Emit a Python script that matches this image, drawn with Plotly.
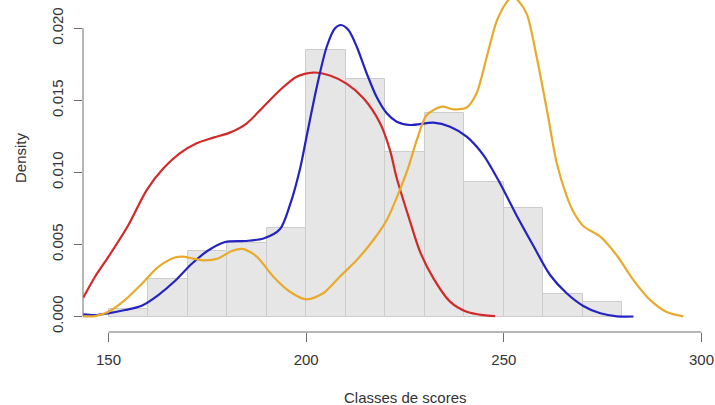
import plotly.graph_objects as go

# ---------------- data ----------------
bin_edges = [150, 160, 170, 180, 190, 200, 210, 220, 230, 240, 250, 260, 270, 280]
bin_density = [0.00055, 0.0026, 0.00455, 0.0051, 0.00612, 0.01849, 0.01648,
               0.0114, 0.0141, 0.00931, 0.00751, 0.00156, 0.00098]

red_x = [143.6, 146.6, 150.0, 154.9, 159.7, 163.9, 168.1, 172.3, 176.5, 180.7,
         185.0, 189.2, 193.4, 197.6, 201.8, 206.0, 210.3, 214.5, 218.7, 221.2,
         222.9, 226.3, 228.8, 232.2, 236.4, 240.6, 244.8, 247.8]
red_y = [0.00130, 0.00276, 0.00415, 0.00628, 0.00879, 0.01028, 0.01133, 0.01202,
         0.01241, 0.01276, 0.01341, 0.01456, 0.01572, 0.01664, 0.01693, 0.01672,
         0.01614, 0.01514, 0.01341, 0.01155, 0.00961, 0.00658, 0.00450, 0.00265,
         0.00103, 0.00033, 0.00009, 0.00002]

blue_x = [143.6, 146.6, 149.9, 154.2, 158.4, 162.6, 166.8, 171.0, 175.2, 179.5,
          184.5, 189.2, 193.4, 195.9, 198.5, 200.1, 202.7, 205.2, 207.3, 208.8,
          210.7, 212.8, 215.3, 217.8, 220.4, 222.9, 226.3, 232.2, 236.4, 240.6,
          244.8, 249.0, 253.3, 257.5, 261.7, 265.9, 270.1, 274.4, 278.6, 282.8]
blue_y = [0.00015, 0.00010, 0.00022, 0.00045, 0.00075, 0.00149, 0.00246, 0.00364,
          0.00458, 0.00517, 0.00524, 0.00541, 0.00607, 0.00774, 0.01031, 0.01248,
          0.01595, 0.01872, 0.02000, 0.02023, 0.01988, 0.01872, 0.01688, 0.01525,
          0.01410, 0.01352, 0.01329, 0.01345, 0.01317, 0.01248, 0.01121, 0.00926,
          0.00697, 0.00489, 0.00288, 0.00161, 0.00073, 0.00022, 0.00001, 0.0]

orange_x = [143.6, 146.6, 150.0, 154.2, 158.4, 162.6, 166.8, 168.8, 171.4, 174.4,
            177.7, 181.2, 184.1, 187.5, 191.7, 195.9, 200.1, 204.3, 208.5, 212.8,
            217.0, 220.4, 223.7, 225.8, 228.0, 230.5, 234.3, 237.2, 240.6, 243.1,
            245.7, 248.2, 250.7, 252.2, 253.7, 255.8, 258.3, 260.9, 263.4, 265.9,
            267.6, 270.1, 274.4, 278.6, 282.8, 287.0, 291.2, 295.4]
orange_y = [0.00001, 0.00003, 0.00033, 0.00115, 0.00226, 0.00344, 0.00409, 0.00416,
            0.00402, 0.00389, 0.00402, 0.00455, 0.00468, 0.00415, 0.00276, 0.00172,
            0.00119, 0.00161, 0.00276, 0.00392, 0.00531, 0.00670, 0.00878, 0.01031,
            0.01225, 0.01398, 0.01456, 0.01438, 0.01450, 0.01549, 0.01803, 0.02050,
            0.02180, 0.02220, 0.02190, 0.02100, 0.01803, 0.01433, 0.01063, 0.00836,
            0.00727, 0.00628, 0.00554, 0.00423, 0.00253, 0.00115, 0.00031, 0.00001]

x_ticks = [150, 200, 250, 300]
y_ticks = [0.000, 0.005, 0.010, 0.015, 0.020]
y_tick_labels = ["0.000", "0.005", "0.010", "0.015", "0.020"]

x_title = "Classes de scores"
y_title = "Density"

# ---------------- figure ----------------
W, H = 715, 405
ML, MR, MT, MB = 83, 0, 0, 73

bin_centers = [(a + b) / 2 for a, b in zip(bin_edges[:-1], bin_edges[1:])]
bin_widths = [b - a for a, b in zip(bin_edges[:-1], bin_edges[1:])]

fig = go.Figure()
fig.add_trace(go.Bar(
    x=bin_centers, y=bin_density, width=bin_widths,
    marker=dict(color="#E6E6E6", line=dict(color="#CCCCCC", width=1)),
    showlegend=False, hoverinfo="skip"))

for xs, ys, col in [(red_x, red_y, "#D02A2A"),
                    (blue_x, blue_y, "#2323C2"),
                    (orange_x, orange_y, "#E8AA2C")]:
    fig.add_trace(go.Scatter(
        x=xs, y=ys, mode="lines",
        line=dict(color=col, width=2.2, shape="spline", smoothing=0.8),
        showlegend=False, hoverinfo="skip"))

font = dict(family="Liberation Sans, Arial, sans-serif", size=15, color="#333333")
axis_col = "#6E6E6E"

fig.update_layout(
    width=W, height=H,
    margin=dict(l=ML, r=MR, t=MT, b=MB, pad=0),
    paper_bgcolor="white", plot_bgcolor="white",
    bargap=0, font=font,
    xaxis=dict(range=[143.55, 303.42], showgrid=False, zeroline=False,
               showline=False, ticks="outside", ticklen=9, tickwidth=1,
               tickcolor=axis_col, tickvals=x_ticks,
               ticktext=[str(v) for v in x_ticks],
               tickfont=font, ticklabelstandoff=5),
    yaxis=dict(range=[-0.001076, 0.021964], showgrid=False, zeroline=False,
               showline=False, ticks="outside", ticklen=8, tickwidth=1,
               tickcolor=axis_col, tickvals=y_ticks, ticktext=y_tick_labels,
               tickangle=-90, tickfont=font, ticklabelstandoff=5),
    shapes=[
        dict(type="line", xref="x", yref="paper",
             x0=x_ticks[0], x1=x_ticks[-1], y0=0, y1=0,
             line=dict(color=axis_col, width=1)),
        dict(type="line", xref="paper", yref="y",
             x0=0, x1=0, y0=y_ticks[0], y1=y_ticks[-1],
             line=dict(color=axis_col, width=1)),
    ],
    annotations=[
        dict(text=x_title, xref="paper", yref="paper",
             x=(405 - ML) / (W - ML - MR), y=-(397 - (H - MB)) / (H - MT - MB),
             xanchor="center", yanchor="middle", showarrow=False, font=font),
        dict(text=y_title, xref="paper", yref="paper",
             x=(20 - ML) / (W - ML - MR), y=((H - MB) - 158) / (H - MT - MB),
             xanchor="center", yanchor="middle", textangle=-90,
             showarrow=False, font=font),
    ],
)

fig.write_html(
    "out.html",
    config={"displayModeBar": False},
    post_script="document.body.style.margin='0';document.body.style.overflow='hidden';",
)
